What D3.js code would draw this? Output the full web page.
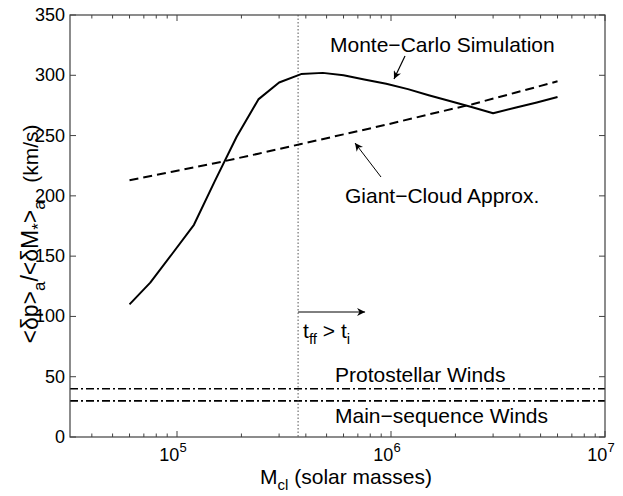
<!DOCTYPE html>
<html>
<head>
<meta charset="utf-8">
<script src="https://cdn.jsdelivr.net/npm/d3@7"></script>
<style>
  body { margin: 0; background: #fff; }
  text { font-family: "Liberation Sans", Arial, sans-serif; fill: #000; }
</style>
</head>
<body>
<script>
// cluster mass grid for the Monte-Carlo curve (solar masses)
var massMC = [6e4, 7.5e4, 9.5e4, 1.2e5, 1.5e5, 1.9e5, 2.4e5, 3e5, 3.8e5, 4.8e5, 6e5,
              7.5e5, 9.5e5, 1.2e6, 1.5e6, 1.9e6, 2.4e6, 3e6, 3.8e6, 4.8e6, 6e6];
var valuesMC = [110, 128, 152, 176, 212, 249, 280, 294, 301, 302, 300,
                296.5, 293, 288.5, 283.5, 278.5, 273.5, 268.5, 273, 277.5, 282];
// giant-cloud approximation
var massGC = [6e4, 9.5e4, 1.5e5, 2.4e5, 3.8e5, 6e5, 9.5e5, 1.5e6, 2.4e6, 3.8e6, 6e6];
var valuesGC = [213, 220, 227, 235, 243, 251, 259, 267.5, 276, 285.5, 295];
// wind levels and free-fall mass
var windLevels = [40, 30];
var windNames = ["Protostellar Winds", "Main\u2212sequence Winds"];
var tffMass = 3.68e5;
var yTicks = [0, 50, 100, 150, 200, 250, 300, 350];
var xTicks = [1e5, 1e6, 1e7];
var xTickExp = ["5", "6", "7"];

var W = 623, H = 496;
// plot box (avoid the name "top", it is window.top)
var pL = 70, pR = 605, pT = 15, pB = 437;

var svg = d3.select("body").append("svg").attr("width", W).attr("height", H);

var x = d3.scaleLog().domain([Math.pow(10, 4.5), 1e7]).range([pL, pR]);
var y = d3.scaleLinear().domain([0, 350]).range([pB, pT]);

var axisCol = "#404040";

// minor log ticks
var minor = [];
[1e4, 1e5, 1e6].forEach(function (dec) {
  for (var k = 2; k <= 9; k++) {
    var v = dec * k;
    if (v > x.domain()[0] && v < 1e7) minor.push(v);
  }
});

var g = svg.append("g");

// wind lines (dash-dot)
g.selectAll(".wind").data(windLevels).enter().append("line")
  .attr("x1", pL).attr("x2", pR)
  .attr("y1", function (d) { return y(d); })
  .attr("y2", function (d) { return y(d); })
  .attr("stroke", "#000").attr("stroke-width", 1.6)
  .attr("stroke-dasharray", "8,3,2,3");

// free-fall time marker
g.append("line")
  .attr("x1", x(tffMass)).attr("x2", x(tffMass))
  .attr("y1", pT).attr("y2", pB)
  .attr("stroke", "#555").attr("stroke-width", 1)
  .attr("stroke-dasharray", "1.5,2");

var line = d3.line()
  .x(function (d) { return x(d[0]); })
  .y(function (d) { return y(d[1]); });

g.append("path")
  .datum(d3.zip(massGC, valuesGC))
  .attr("d", line)
  .attr("fill", "none").attr("stroke", "#000").attr("stroke-width", 2)
  .attr("stroke-dasharray", "9,5");

g.append("path")
  .datum(d3.zip(massMC, valuesMC))
  .attr("d", line)
  .attr("fill", "none").attr("stroke", "#000").attr("stroke-width", 2)
  .attr("stroke-linejoin", "round");

// box
svg.append("rect")
  .attr("x", pL).attr("y", pT)
  .attr("width", pR - pL).attr("height", pB - pT)
  .attr("fill", "none").attr("stroke", axisCol).attr("stroke-width", 1.2);

// ticks inside on all sides
function tick(x1, y1, x2, y2) {
  svg.append("line").attr("x1", x1).attr("y1", y1).attr("x2", x2).attr("y2", y2)
    .attr("stroke", axisCol).attr("stroke-width", 1);
}
yTicks.forEach(function (d) {
  tick(pL, y(d), pL + 6, y(d));
  tick(pR, y(d), pR - 6, y(d));
});
xTicks.forEach(function (d) {
  tick(x(d), pB, x(d), pB - 6);
  tick(x(d), pT, x(d), pT + 6);
});
minor.forEach(function (d) {
  tick(x(d), pB, x(d), pB - 3.5);
  tick(x(d), pT, x(d), pT + 3.5);
});

// tick labels
svg.append("g").selectAll("text").data(yTicks).enter().append("text")
  .attr("x", pL - 5).attr("y", function (d) { return y(d) + 6; })
  .attr("text-anchor", "end").attr("font-size", 18)
  .text(function (d) { return d; });

var xl = svg.append("g").selectAll("text").data(xTicks).enter().append("text")
  .attr("x", function (d) { return x(d) - 4; })
  .attr("y", 461)
  .attr("text-anchor", "middle").attr("font-size", 18);
xl.append("tspan").text("10");
xl.append("tspan").attr("font-size", 13).attr("dy", -9)
  .text(function (d, i) { return xTickExp[i]; });

// axis titles
var xt = svg.append("text").attr("x", 346).attr("y", 484)
  .attr("text-anchor", "middle").attr("font-size", 21);
xt.append("tspan").text("M");
xt.append("tspan").attr("font-size", 15).attr("dy", 6).text("cl");
xt.append("tspan").attr("dy", -6).text(" (solar masses)");

var yt = svg.append("text")
  .attr("transform", "translate(38,234) rotate(-90)")
  .attr("text-anchor", "middle").attr("font-size", 23);
yt.append("tspan").text("<\u03b4p>");
yt.append("tspan").attr("font-size", 17).attr("dy", 7).text("a");
yt.append("tspan").attr("dy", -7).text("/<\u03b4M");
yt.append("tspan").attr("font-size", 17).attr("dy", 6).text("*");
yt.append("tspan").attr("dy", -6).text(">");
yt.append("tspan").attr("font-size", 17).attr("dy", 7).text("a");
yt.append("tspan").attr("dy", -7).attr("font-size", 21).text("\u00a0\u00a0\u00a0(km/s)");

// annotations
svg.append("defs").append("marker")
  .attr("id", "head").attr("viewBox", "0 0 10 10")
  .attr("refX", 10).attr("refY", 5)
  .attr("markerWidth", 9).attr("markerHeight", 8)
  .attr("markerUnits", "userSpaceOnUse")
  .attr("orient", "auto")
  .append("path").attr("d", "M0,0 L10,5 L0,10 L3,5 z").attr("fill", "#000");

function arrow(x1, y1, x2, y2, w) {
  svg.append("line").attr("x1", x1).attr("y1", y1).attr("x2", x2).attr("y2", y2)
    .attr("stroke", "#000").attr("stroke-width", w || 1)
    .attr("marker-end", "url(#head)");
}

svg.append("text").attr("x", 330).attr("y", 52).attr("font-size", 21)
  .text("Monte\u2212Carlo Simulation");
arrow(405, 56, 394, 79, 1.2);

svg.append("text").attr("x", 345).attr("y", 203).attr("font-size", 21)
  .text("Giant\u2212Cloud Approx.");
arrow(381, 177, 355, 143, 1);

svg.append("text").attr("x", 335).attr("y", 382).attr("font-size", 21)
  .text(windNames[0]);
svg.append("text").attr("x", 335).attr("y", 423).attr("font-size", 21)
  .text(windNames[1]);

var tt = svg.append("text").attr("x", x(tffMass) + 5).attr("y", 338).attr("font-size", 21);
tt.append("tspan").text("t");
tt.append("tspan").attr("font-size", 15).attr("dy", 6).text("ff");
tt.append("tspan").attr("dy", -6).text(" > t");
tt.append("tspan").attr("font-size", 15).attr("dy", 6).text("i");
arrow(x(tffMass), 312, x(tffMass) + 67, 312, 1);
</script>
</body>
</html>
